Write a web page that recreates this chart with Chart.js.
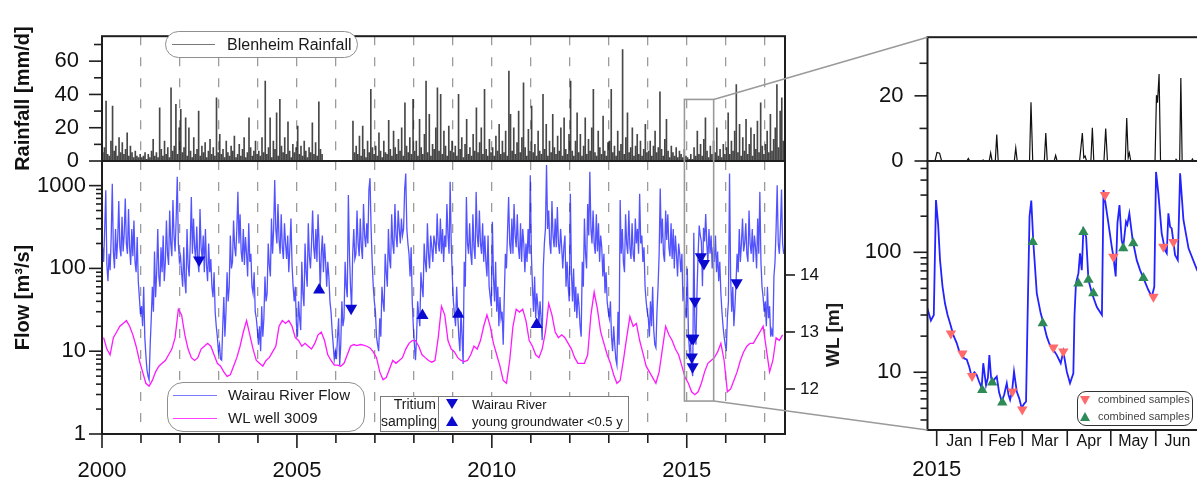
<!DOCTYPE html>
<html>
<head>
<meta charset="utf-8">
<script src="https://cdn.jsdelivr.net/npm/chart.js@4.4.1/dist/chart.umd.min.js"></script>
<style>
  html, body { margin: 0; padding: 0; background: #fff; overflow: hidden; width: 1197px; height: 484px; }
  #wrap { position: relative; width: 1197px; height: 484px; overflow: hidden;
          font-family: "Liberation Sans", Arial, sans-serif; color: #1a1a1a; }
  #wrap canvas { position: absolute; left: 0; top: 0; }
  .box { position: absolute; box-sizing: border-box; background: #fff; border: 1px solid #8f8f8f; }
  .box div { position: absolute; white-space: nowrap; }
  .ln { height: 0; }
  .tdown { width: 0; height: 0; border-left: 6px solid transparent; border-right: 6px solid transparent; border-top: 10px solid #0a0ad0; }
  .tup { width: 0; height: 0; border-left: 6px solid transparent; border-right: 6px solid transparent; border-bottom: 10px solid #0a0ad0; }
  #wlTitle { position: absolute; left: 833px; top: 335px; transform: translate(-50%, -50%) rotate(-90deg);
             font-weight: bold; font-size: 19px; white-space: nowrap; }
</style>
</head>
<body>
<div id="wrap">
  <canvas id="rainL" width="1197" height="484"></canvas>
  <canvas id="flowL" width="1197" height="484"></canvas>
  <canvas id="rainR" width="1220" height="484"></canvas>
  <canvas id="flowR" width="1220" height="484"></canvas>
  <canvas id="overlay" width="1220" height="484"></canvas>

  <div class="box" style="left:165px;top:31px;width:193px;height:27px;border-radius:14px;">
    <div class="ln" style="left:6px;top:12px;width:43px;border-top:1.3px solid #777;"></div>
    <div style="left:61px;top:3px;font-size:16px;line-height:19px;">Blenheim Rainfall</div>
  </div>

  <div class="box" style="left:167px;top:382px;width:198px;height:50px;border-radius:16px;">
    <div class="ln" style="left:5px;top:12px;width:44px;border-top:1.5px solid #7878ff;"></div>
    <div class="ln" style="left:5px;top:35px;width:44px;border-top:1.5px solid #ff40ff;"></div>
    <div style="left:60px;top:3px;font-size:15px;line-height:18px;">Wairau River Flow</div>
    <div style="left:60px;top:26px;font-size:15px;line-height:18px;">WL well 3009</div>
  </div>

  <div class="box" style="left:380px;top:396px;width:249px;height:36px;border-color:#7a7a7a;">
    <div style="left:0;top:-1px;width:55px;text-align:right;font-size:14px;line-height:17px;">Tritium<br>sampling</div>
    <div style="left:57px;top:0;height:34px;border-left:1px solid #7a7a7a;"></div>
    <div class="tdown" style="left:65px;top:2px;"></div>
    <div class="tup" style="left:65px;top:19px;"></div>
    <div style="left:91px;top:-1px;font-size:13px;line-height:17px;">Wairau River</div>
    <div style="left:91px;top:16px;font-size:13px;line-height:17px;">young groundwater &lt;0.5 y</div>
  </div>

  <div class="box" style="left:1077px;top:391px;width:116px;height:35px;border-radius:9px;border-color:#333;">
    <div class="tdown" style="left:2px;top:4px;border-left-width:5.5px;border-right-width:5.5px;border-top:9px solid #ff6a6a;"></div>
    <div class="tup" style="left:2px;top:20px;border-left-width:5.5px;border-right-width:5.5px;border-bottom:9px solid #2e8b57;"></div>
    <div style="left:20px;top:1px;font-size:11px;line-height:13px;color:#444;">combined samples</div>
    <div style="left:20px;top:18px;font-size:11px;line-height:13px;color:#444;">combined samples</div>
  </div>

  <div id="wlTitle">WL [m]</div>
</div>

<script>
// ---------- long record: flow 36 samples / year, WL 12 / year, rain 24 / year ----------
const yearTicks = [2000, 2001, 2002, 2003, 2004, 2005, 2006, 2007, 2008, 2009, 2010, 2011, 2012, 2013, 2014, 2015, 2016, 2017];

const flow2000 = [180, 120, 300, 880, 110, 70, 150, 95, 240, 1050, 160, 100, 300, 130, 220, 650, 180, 140,
  420, 160, 260, 700, 200, 150, 520, 180, 110, 300, 140, 380, 120, 90, 240, 70, 45, 28];
const flow2001 = [35, 20, 60, 15, 9, 6, 5, 4.5, 12, 25, 60, 30, 160, 45, 90, 300, 80, 60,
  180, 90, 250, 70, 120, 380, 150, 110, 500, 200, 140, 670, 250, 160, 400, 1280, 200, 120];
const flow2002 = [140, 90, 60, 180, 70, 50, 300, 110, 80, 200, 730, 150, 400, 180, 126, 320, 120, 90,
  520, 180, 130, 250, 90, 300, 110, 70, 200, 90, 130, 60, 45, 90, 30, 20, 15, 10];
const flow2003 = [12, 8, 7.8, 20, 45, 15, 30, 90, 40, 60, 250, 100, 120, 380, 180, 140, 300, 840,
  200, 450, 160, 120, 300, 110, 240, 150, 80, 350, 120, 150, 60, 50, 90, 30, 25, 18];
const flow2004 = [12, 20, 10, 35, 15, 25, 80, 40, 50, 200, 110, 80, 400, 150, 300, 1170, 300, 200,
  600, 220, 150, 450, 180, 130, 350, 200, 130, 250, 90, 180, 400, 110, 60, 40, 60, 22];
const flow2005 = [15, 40, 25, 18, 120, 50, 35, 200, 90, 60, 350, 140, 100, 200, 500, 180, 130, 300,
  120, 450, 200, 55, 150, 250, 90, 200, 120, 60, 120, 80, 40, 30, 18, 12, 8, 10];
const flow2006 = [8, 15, 25, 6.8, 12, 40, 20, 25, 120, 60, 45, 770, 150, 60, 33, 150, 300, 130,
  150, 500, 200, 140, 400, 180, 130, 600, 250, 180, 350, 200, 900, 1230, 300, 120, 60, 40];
const flow2007 = [30, 15, 12, 10, 25, 15, 60, 40, 30, 150, 90, 60, 300, 130, 100, 450, 200, 150,
  600, 250, 180, 500, 300, 200, 400, 250, 300, 900, 1400, 300, 200, 150, 80, 180, 40, 20];
const flow2008 = [12, 7.8, 15, 40, 27, 20, 90, 60, 45, 200, 120, 90, 350, 150, 100, 250, 180, 120,
  250, 200, 150, 460, 200, 160, 400, 150, 300, 120, 250, 180, 600, 250, 150, 1110, 200, 80];
const flow2009 = [40, 28, 20, 60, 28, 15, 10, 30, 15, 7, 120, 60, 730, 200, 150, 350, 150, 110,
  450, 180, 130, 840, 250, 180, 500, 200, 150, 350, 120, 250, 120, 80, 250, 60, 45, 35];
const flow2010 = [365, 80, 40, 120, 30, 60, 20, 45, 25, 30, 12, 45, 150, 100, 280, 730, 200, 150,
  400, 150, 600, 250, 180, 450, 180, 130, 350, 120, 300, 200, 90, 200, 120, 300, 150, 1330];
const flow2011 = [150, 60, 30, 80, 25, 50, 35, 21, 40, 25, 13.6, 100, 200, 300, 1770, 300, 500, 200,
  150, 650, 250, 180, 400, 180, 550, 200, 150, 300, 180, 100, 180, 250, 60, 120, 60, 40];
const flow2012 = [800, 90, 40, 100, 30, 60, 25, 50, 35, 20, 15, 120, 60, 400, 150, 100, 600, 250,
  1470, 300, 200, 500, 200, 150, 450, 160, 350, 120, 250, 180, 80, 150, 50, 90, 40, 30];
const flow2013 = [25, 40, 15, 10, 20, 12, 8, 6.8, 30, 12, 670, 150, 300, 120, 90, 450, 200, 150,
  500, 180, 130, 350, 150, 120, 400, 200, 300, 150, 800, 200, 250, 120, 180, 60, 40, 30];
const flow2014 = [25, 15, 40, 20, 60, 18, 12, 11, 30, 60, 150, 925, 200, 400, 150, 120, 500, 220,
  450, 180, 140, 350, 130, 300, 100, 250, 150, 80, 200, 150, 90, 150, 40, 60, 30, 25];
const flow2015 = [100, 17, 10, 12, 6, 5, 270, 19, 12, 55, 150, 330, 250, 210, 61, 310, 211, 455,
  200, 120, 300, 150, 250, 100, 180, 120, 250, 90, 160, 70, 120, 50, 30, 20, 15, 12];
const flow2016 = [10, 25, 40, 1400, 80, 30, 60, 20, 35, 67, 150, 90, 300, 120, 200, 400, 160, 200,
  350, 150, 120, 500, 200, 150, 300, 120, 250, 180, 100, 400, 150, 840, 120, 60, 45, 30];
const flow2017 = [40, 20, 60, 25, 35, 15, 18, 15, 80, 120, 300, 1010, 200, 150, 300, 900, 200, 150];

const wl2000 = [12.9, 12.7, 12.6, 12.9, 13.0, 13.1, 13.15, 13.2, 13.1, 12.95, 12.75, 12.5];
const wl2001 = [12.3, 12.1, 12.05, 12.15, 12.3, 12.4, 12.45, 12.5, 12.6, 12.7, 12.9, 13.4];
const wl2002 = [13.3, 12.95, 12.7, 12.55, 12.5, 12.55, 12.7, 12.75, 12.8, 12.75, 12.6, 12.45];
const wl2003 = [12.4, 12.3, 12.22, 12.25, 12.4, 12.55, 12.75, 13.0, 13.2, 12.95, 12.7, 12.5];
const wl2004 = [12.45, 12.4, 12.5, 12.55, 12.65, 12.75, 13.1, 13.2, 13.15, 13.2, 13.1, 12.9];
const wl2005 = [12.85, 12.75, 12.8, 12.75, 12.7, 12.8, 12.95, 13.0, 12.85, 12.6, 12.5, 12.42];
const wl2006 = [12.42, 12.4, 12.45, 12.6, 12.75, 12.78, 12.76, 12.78, 12.77, 12.75, 12.72, 12.65];
const wl2007 = [12.55, 12.3, 12.16, 12.2, 12.35, 12.5, 12.45, 12.5, 12.55, 12.7, 12.8, 12.85];
const wl2008 = [12.85, 12.75, 12.6, 12.55, 12.5, 12.47, 12.5, 12.9, 13.45, 13.3, 12.85, 12.7];
const wl2009 = [12.65, 12.55, 12.5, 12.48, 12.5, 12.6, 12.75, 12.7, 12.85, 13.1, 13.3, 13.1];
const wl2010 = [12.8, 12.6, 12.4, 12.15, 12.1, 12.5, 13.1, 13.4, 13.35, 13.4, 13.2, 12.85];
const wl2011 = [12.75, 12.6, 12.55, 12.7, 13.0, 13.5, 13.3, 13.0, 12.9, 12.95, 12.9, 12.8];
const wl2012 = [12.7, 12.55, 12.45, 12.45, 12.45, 12.6, 13.3, 13.7, 13.4, 13.0, 12.8, 12.6];
const wl2013 = [12.45, 12.25, 12.1, 12.15, 12.5, 12.9, 13.27, 13.1, 13.15, 12.85, 12.63, 12.4];
const wl2014 = [12.3, 12.2, 12.1, 12.3, 12.7, 13.1, 12.95, 12.85, 12.7, 12.6, 12.4, 12.2];
const wl2015 = [12.1, 11.95, 11.9, 11.95, 12.1, 12.3, 12.45, 12.5, 12.55, 12.65, 12.8, 12.5];
const wl2016 = [11.95, 12.0, 12.15, 12.3, 12.5, 12.65, 12.75, 12.8, 12.8, 12.9, 13.0, 13.1];
const wl2017 = [12.7, 12.3, 12.5, 12.9, 12.85, 12.95];

const rain2000 = [5, 8, 36, 4, 3, 12, 33, 6, 9, 3, 14, 5, 11, 4, 7, 17, 3, 9, 5, 2, 6, 3, 2, 4];
const rain2001 = [2, 3, 5, 1, 4, 2, 6, 13, 3, 5, 2, 32, 7, 3, 12, 4, 8, 2, 44, 6, 9, 34, 4, 20];
const rain2002 = [31, 5, 8, 26, 3, 20, 6, 2, 14, 4, 7, 30, 3, 9, 5, 11, 2, 6, 13, 4, 8, 3, 38, 5];
const rain2003 = [16, 4, 7, 2, 12, 5, 3, 9, 6, 15, 2, 4, 10, 3, 7, 14, 2, 5, 26, 8, 3, 6, 12, 4];
const rain2004 = [6, 3, 14, 5, 48, 4, 8, 26, 2, 12, 7, 29, 3, 37, 9, 5, 14, 4, 23.5, 6, 2, 10, 5, 8];
const rain2005 = [21, 4, 9, 3, 12, 6, 2, 8, 5, 23, 4, 11, 3, 35.6, 7, 4, null, null, null, null, null, null, null, null];
const rain2006 = [null, null, null, null, null, null, null, null, null, null, 24, 5, 9, 4, 15, 3, 21, 7, 2, 12, 5, 43, 8, 4];
const rain2007 = [9, 3, 17, 6, 2, 12, 5, 4, 24.5, 7, 3, 18, 8, 4, 13, 6, 20, 3, 35, 9, 5, 14, 4, 37];
const rain2008 = [6, 12, 3, 25, 8, 4, 16, 48, 5, 28, 3, 10, 7, 20, 44, 6, 40, 4, 18, 9, 3, 21, 6, 12];
const rain2009 = [5, 9, 3, 40, 7, 14, 2, 10, 25, 4, 8, 3, 16, 6, 32, 5, 11, 20, 4, 43, 7, 3, 13, 5];
const rain2010 = [8, 3, 15, 6, 22, 4, 12, 5, 18, 3, 54, 28, 6, 20, 4, 11, 30, 5, 14, 47, 8, 3, 19, 6];
const rain2011 = [33, 5, 10, 3, 18, 6, 4, 40, 7, 22, 3, 12, 5, 28, 8, 4, 15, 6, 20, 3, 26, 7, 4, 16];
const rain2012 = [48, 6, 3, 12, 29, 5, 16, 3, 9, 26, 4, 13, 6, 20, 43, 5, 3, 18, 8, 4, 27, 6, 3, 11];
const rain2013 = [12, 43, 5, 9, 3, 18, 6, 10, 67, 4, 14, 29, 5, 8, 20, 3, 9, 16, 4, 12, 3, 7, 22, 5];
const rain2014 = [6, 12, 3, 9, 18, 5, 8, 41.6, 7, 3, 13, 25, 6, 2, 9, 5, 3, 8, 2, 6, 4, 2, 7, 3];
const rain2015 = [2, 1, 4, 1, 8, 3, 18, 4, 10, 3, 13, 26, 6, 2, 9, 4, 12, 5, 20, 3, 7, 2, 10, 4];
const rain2016 = [8, 29, 4, 12, 6, 18, 46, 5, 22, 3, 14, 6, 25, 4, 10, 20, 3, 16, 7, 24, 5, 35, 9, 4];
const rain2017 = [10, 18, 5, 28, 6, 13, 20, 46, 8, 30, 38, 12];

// tritium samples on the long record
const riverYears = [2002.49, 2006.39, 2015.13, 2015.17, 2015.13, 2015.15, 2015.21, 2015.36, 2015.44, 2016.28];
const riverFlow = [126, 33, 14.3, 14.3, 8.5, 6.5, 40, 138, 115, 67];
const gwYears = [2005.57, 2008.22, 2009.14, 2011.15];
const gwFlow = [55, 27, 28, 21];

// ---------- Jan-Jun 2015 detail (x = days since 1 Jan 2015) ----------
const zoomFlowDay = [-7, -4, -2, -0.5, 1, 2.3, 4, 5.7, 7.5, 9.2, 11.5, 13.8, 15.5, 17.2, 19, 20.7, 22.5, 24.1, 26, 27.6,
  29, 31, 32.1, 34, 35.3, 36.3, 37.5, 38.6, 40, 41.4, 43, 44.8, 46.5, 48.3, 49.5, 50.6, 52, 53.3, 55.2, 57,
  58.6, 60, 61.6, 62.6, 64, 65.2, 66.6, 69, 71.7, 73.5, 75.9, 77.5, 79.3, 81, 82.8, 85.5, 87.3, 89.7, 91.9, 94.2,
  95, 96, 97.7, 98.8, 100, 101.1, 103, 104.6, 107, 110.4, 113.9, 115, 117.7, 120.7, 121.8, 123.4, 124.6, 126, 127.5, 128.6,
  130.5, 131.4, 132.8, 135.1, 137.9, 140.2, 142.5, 145.9, 148.3, 150, 151.2, 152.8, 155.1, 157.4, 158.6, 159.7, 160.9, 162, 164.3, 166.2,
  167.8, 170.1, 173.6, 179.5, 185];
const zoomFlowValue = [36, 27, 30, 273, 170, 86, 52, 37.6, 30, 25.6, 20.4, 17.5, 15, 14.4, 13, 12.8, 11, 9.2, 10, 9.5,
  8.5, 7.4, 11.9, 7.8, 9, 13.9, 9, 8.3, 8.8, 9.2, 6.8, 5.7, 6.5, 8.1, 6.5, 5.9, 7, 10.1, 6.9, 6,
  5.0, 5.4, 5.7, 27, 200, 270, 122, 45.5, 31, 26, 19.8, 17.5, 15.8, 15, 13.9, 11.9, 14.9, 10.1, 8.1, 9.8,
  30, 55, 67, 98, 71, 153, 135, 59, 45.5, 35, 30, 330, 198, 111, 92, 63, 175, 248, 126, 111,
  180, 170, 211, 126, 86, 71, 61, 48.5, 42.7, 51.6, 468, 310, 144, 104, 98, 211, 163, 158, 95, 86,
  455, 186, 108, 71, 55];

const zoomRainDay = [-7, -1.2, 0.2, 2, 3.4, 20.8, 21.8, 22.8, 31, 32, 33, 36.2, 37.2, 38.2, 40.4, 41.4, 42.4, 53.5, 54.5, 55.5,
  64, 65, 66.2, 74.2, 75.2, 76.2, 81, 82, 83, 98.5, 100.4, 101.4, 102.3, 103.3, 106.3, 107.3, 108.3, 115.3, 116.5, 117.7,
  130, 131, 132, 132.8, 133.8, 150.5, 151.5, 152.2, 153.3, 154.3, 164.5, 165, 166, 167.5, 168.3, 169.2, 175.5, 176.3, 177, 185];
const zoomRainMm = [0, 0, 2.6, 2.4, 0, 0, 0.8, 0, 0, 0.3, 0, 0, 2.5, 0, 0, 8.1, 0, 0, 4, 0,
  0, 18, 0, 0, 8.6, 0, 0, 1.7, 0, 0, 8.6, 1, 1.5, 0, 0, 10.2, 0, 0, 10, 0,
  0, 13.2, 1, 2.5, 0, 0, 20.2, 17.9, 26.7, 0, 0, 0.5, 0, 0, 25.5, 0, 0, 0.6, 0, 0];

const combDownDay = [9.8, 17.7, 24.4, 52.2, 59, 80.4, 87.3, 116, 121.8, 149.4, 156.3, 163.2];
const combDownValue = [21, 14.3, 9.3, 6.9, 4.9, 16.1, 14.9, 300, 92, 42.7, 111, 122];
const combUpDay = [31.4, 38.3, 45.2, 66.2, 73.1, 97.7, 101.1, 104.6, 108, 128.6, 135.5, 142.5];
const combUpValue = [7.1, 8.2, 5.6, 122, 25.6, 55, 148, 59, 45.5, 108, 119, 61];

// ---------- axis ticks ----------
const rainTicksL = [0, 10, 20, 30, 40, 50, 60, 70];
const rainTicksR = [0, 10, 20, 30];
const flowTicksL = [1, 2, 3, 4, 5, 6, 7, 8, 9, 10, 20, 30, 40, 50, 60, 70, 80, 90, 100, 200, 300, 400, 500, 600, 700, 800, 900, 1000];
const flowTicksR = [4, 5, 6, 7, 8, 9, 10, 20, 30, 40, 50, 60, 70, 80, 90, 100, 200, 300, 400, 500];
const decadeLabels = [1, 10, 100, 1000];
const wlTicks = [12, 13, 14];
const monthStarts = [0, 31, 59, 90, 120, 151];
const monthMids = [15.5, 45, 74.5, 105, 135.5, 166];
const monthNames = ['Jan', 'Feb', 'Mar', 'Apr', 'May', 'Jun'];

// zoom window drawn on the long record
const zoomStartYear = 2014.94, zoomEndYear = 2015.69;
const zoomTopRain = 37, zoomBottomFlow = 2.5;

// ================================
// helpers
// ================================
const FONT = '"Liberation Sans", Arial, sans-serif';
Chart.defaults.font.family = FONT;
Chart.defaults.color = '#111';
Chart.defaults.animation = false;
Chart.defaults.events = [];
Chart.defaults.plugins.legend.display = false;
Chart.defaults.plugins.tooltip.enabled = false;

function fromYears(table, perYear) {
  const out = [];
  table.forEach(([yr, vals]) => vals.forEach((v, i) => {
    if (v !== null) out.push({ x: yr + (i + 0.5) / perYear, y: v });
  }));
  return out;
}
const pairs = (xs, ys) => xs.map((x, i) => ({ x, y: ys[i] }));
const setTicks = list => s => { s.ticks = list.map(v => ({ value: v })); };

const frame = {
  id: 'frame',
  afterDraw(chart) {
    const { ctx, chartArea: a } = chart;
    ctx.save();
    ctx.strokeStyle = '#1e1e1e';
    ctx.lineWidth = 2;
    ctx.strokeRect(a.left, a.top, a.right - a.left, a.bottom - a.top);
    ctx.restore();
  }
};

// tick marks outside the frame, long for labelled ticks, short otherwise
function tickMarks(specs) {
  return {
    id: 'tickMarks',
    afterDraw(chart) {
      const { ctx, chartArea: a } = chart;
      ctx.save();
      ctx.strokeStyle = '#1e1e1e';
      ctx.lineWidth = 1.6;
      specs.forEach(sp => {
        const s = chart.scales[sp.id];
        const list = sp.at ? sp.at.map(v => ({ value: v, major: true }))
                           : s.ticks.map(t => ({ value: t.value, major: !!t.label }));
        list.forEach(t => {
          const p = s.getPixelForValue(t.value);
          const len = t.major ? sp.major : sp.minor;
          ctx.beginPath();
          if (sp.side === 'bottom') { ctx.moveTo(p, a.bottom); ctx.lineTo(p, a.bottom + len); }
          else if (sp.side === 'left') { ctx.moveTo(a.left, p); ctx.lineTo(a.left - len, p); }
          else { ctx.moveTo(a.right, p); ctx.lineTo(a.right + len, p); }
          ctx.stroke();
        });
      });
      ctx.restore();
    }
  };
}

const yearGrid = { display: true, drawTicks: false, offset: false, color: '#9b9b9b', lineWidth: 1.3 };
const noGrid = { display: false, drawTicks: false };

// ================================
// top left: rainfall
// ================================
const rainL = new Chart(document.getElementById('rainL'), {
  type: 'bar',
  data: {
    datasets: [{
      data: fromYears([[2000, rain2000], [2001, rain2001], [2002, rain2002], [2003, rain2003], [2004, rain2004], [2005, rain2005],
        [2006, rain2006], [2007, rain2007], [2008, rain2008], [2009, rain2009], [2010, rain2010], [2011, rain2011],
        [2012, rain2012], [2013, rain2013], [2014, rain2014], [2015, rain2015], [2016, rain2016], [2017, rain2017]], 24),
      backgroundColor: 'rgba(0,0,0,0.72)',
      borderWidth: 0,
      barThickness: 1
    }]
  },
  options: {
    responsive: false,
    layout: { padding: { left: 0, top: 24, right: 412, bottom: 323 } },
    scales: {
      x: {
        type: 'linear', min: 2000, max: 2017.52, offset: false,
        afterBuildTicks: setTicks(yearTicks),
        afterFit: s => { s.height = 0; },
        ticks: { display: false },
        grid: yearGrid,
        border: { display: false, dash: [9, 12] }
      },
      y: {
        min: 0, max: 75,
        afterBuildTicks: setTicks(rainTicksL),
        afterFit: s => { s.width = 102; },
        ticks: { padding: 23, font: { size: 22 }, autoSkip: false, callback: v => (v % 20 === 0 ? String(v) : '') },
        grid: noGrid,
        border: { display: false },
        title: { display: true, text: 'Rainfall [mm/d]', font: { size: 20, weight: 'bold' }, padding: { top: 11, bottom: 0 } }
      }
    }
  },
  plugins: [frame, tickMarks([{ id: 'y', side: 'left', major: 13, minor: 8 }])]
});

// ================================
// bottom left: flow + WL
// ================================
const flowL = new Chart(document.getElementById('flowL'), {
  type: 'line',
  data: {
    datasets: [
      {
        label: 'Wairau River', data: pairs(riverYears, riverFlow), yAxisID: 'y', showLine: false, order: 0,
        pointStyle: 'triangle', rotation: 180, pointRadius: 7, backgroundColor: '#0a0ad0', borderColor: '#0a0ad0', borderWidth: 0
      },
      {
        label: 'young groundwater <0.5 y', data: pairs(gwYears, gwFlow), yAxisID: 'y', showLine: false, order: 0,
        pointStyle: 'triangle', pointRadius: 7, backgroundColor: '#0a0ad0', borderColor: '#0a0ad0', borderWidth: 0
      },
      {
        label: 'WL well 3009', yAxisID: 'y2', order: 1,
        data: fromYears([[2000, wl2000], [2001, wl2001], [2002, wl2002], [2003, wl2003], [2004, wl2004], [2005, wl2005],
          [2006, wl2006], [2007, wl2007], [2008, wl2008], [2009, wl2009], [2010, wl2010], [2011, wl2011],
          [2012, wl2012], [2013, wl2013], [2014, wl2014], [2015, wl2015], [2016, wl2016], [2017, wl2017]], 12),
        borderColor: '#ff19ff', borderWidth: 1.3, pointRadius: 0, tension: 0
      },
      {
        label: 'Wairau River Flow', yAxisID: 'y', order: 2,
        data: fromYears([[2000, flow2000], [2001, flow2001], [2002, flow2002], [2003, flow2003], [2004, flow2004], [2005, flow2005],
          [2006, flow2006], [2007, flow2007], [2008, flow2008], [2009, flow2009], [2010, flow2010], [2011, flow2011],
          [2012, flow2012], [2013, flow2013], [2014, flow2014], [2015, flow2015], [2016, flow2016], [2017, flow2017]], 36),
        borderColor: 'rgba(0,0,255,0.68)', borderWidth: 1.3, pointRadius: 0, tension: 0
      }
    ]
  },
  options: {
    responsive: false,
    layout: { padding: { left: 0, top: 161, right: 352, bottom: 0 } },
    scales: {
      x: {
        type: 'linear', min: 2000, max: 2017.52,
        afterBuildTicks: setTicks(yearTicks),
        afterFit: s => { s.height = 50; },
        ticks: { padding: 24, font: { size: 22 }, autoSkip: false, maxRotation: 0, callback: v => (v % 5 === 0 ? String(v) : '') },
        grid: yearGrid,
        border: { display: false, dash: [9, 12] }
      },
      y: {
        type: 'logarithmic', min: 1, max: 1983,
        afterBuildTicks: setTicks(flowTicksL),
        afterFit: s => { s.width = 102; },
        ticks: { padding: 16, font: { size: 22 }, autoSkip: false, callback: v => (decadeLabels.includes(v) ? String(v) : '') },
        grid: noGrid,
        border: { display: false },
        title: { display: true, text: 'Flow [m³/s]', font: { size: 20, weight: 'bold' }, padding: { top: 11, bottom: 0 } }
      },
      y2: {
        position: 'right', min: 11.21, max: 16.0,
        afterBuildTicks: setTicks(wlTicks),
        afterFit: s => { s.width = 60; },
        ticks: { padding: 15, font: { size: 17 }, autoSkip: false },
        grid: noGrid,
        border: { display: false }
      }
    }
  },
  plugins: [frame, tickMarks([
    { id: 'x', side: 'bottom', major: 14, minor: 9 },
    { id: 'y', side: 'left', major: 13, minor: 6 },
    { id: 'y2', side: 'right', major: 10, minor: 10 }
  ])]
});

// ================================
// top right: rainfall Jan-Jun 2015
// ================================
const rainR = new Chart(document.getElementById('rainR'), {
  type: 'line',
  data: { datasets: [{ data: pairs(zoomRainDay, zoomRainMm), borderColor: '#111', borderWidth: 1.2, pointRadius: 0, tension: 0 }] },
  options: {
    responsive: false,
    layout: { padding: { left: 0, top: 24, right: 10, bottom: 323 } },
    scales: {
      x: { type: 'linear', min: -6.34, max: 188.4, display: false },
      y: {
        min: 0, max: 38,
        afterBuildTicks: setTicks(rainTicksR),
        afterFit: s => { s.width = 927.5; },
        ticks: { padding: 24, font: { size: 22 }, autoSkip: false, callback: v => (v % 20 === 0 ? String(v) : '') },
        grid: noGrid,
        border: { display: false }
      }
    }
  },
  plugins: [frame, tickMarks([{ id: 'y', side: 'left', major: 13, minor: 8 }])]
});

// ================================
// bottom right: flow Jan-Jun 2015
// ================================
const flowR = new Chart(document.getElementById('flowR'), {
  type: 'line',
  data: {
    datasets: [
      {
        label: 'combined samples', data: pairs(combDownDay, combDownValue), showLine: false, order: 0,
        pointStyle: 'triangle', rotation: 180, pointRadius: 6, backgroundColor: '#ff6a6a', borderWidth: 0
      },
      {
        label: 'combined samples', data: pairs(combUpDay, combUpValue), showLine: false, order: 0,
        pointStyle: 'triangle', pointRadius: 6, backgroundColor: '#2e8b57', borderWidth: 0
      },
      {
        label: 'Wairau River Flow', data: pairs(zoomFlowDay, zoomFlowValue), order: 1,
        borderColor: '#2323ff', borderWidth: 1.8, pointRadius: 0, tension: 0
      }
    ]
  },
  options: {
    responsive: false,
    layout: { padding: { left: 0, top: 161, right: 10, bottom: 0 } },
    scales: {
      x: {
        type: 'linear', min: -6.34, max: 188.4, weight: 1,
        afterBuildTicks: setTicks(monthMids),
        afterFit: s => { s.height = 22; },
        ticks: { padding: 2, font: { size: 16 }, autoSkip: false, maxRotation: 0, callback: (v, i) => monthNames[i] },
        grid: noGrid,
        border: { display: false }
      },
      yr: {
        type: 'linear', position: 'bottom', min: -6.34, max: 188.4, weight: 2,
        afterBuildTicks: setTicks([0]),
        afterFit: s => { s.height = 32; },
        ticks: { padding: 5, font: { size: 22 }, autoSkip: false, maxRotation: 0, callback: () => '2015' },
        grid: noGrid,
        border: { display: false }
      },
      y: {
        type: 'logarithmic', min: 3.3, max: 577,
        afterBuildTicks: setTicks(flowTicksR),
        afterFit: s => { s.width = 927.5; },
        ticks: { padding: 26, font: { size: 22 }, autoSkip: false, callback: v => (decadeLabels.includes(v) ? String(v) : '') },
        grid: noGrid,
        border: { display: false }
      }
    }
  },
  plugins: [frame, tickMarks([
    { id: 'x', side: 'bottom', major: 16, minor: 16, at: monthStarts },
    { id: 'y', side: 'left', major: 14, minor: 7 }
  ])]
});

// ================================
// zoom window + connector lines
// ================================
(function drawZoomWindow() {
  const ctx = document.getElementById('overlay').getContext('2d');
  const x0 = rainL.scales.x.getPixelForValue(zoomStartYear);
  const x1 = rainL.scales.x.getPixelForValue(zoomEndYear);
  const y0 = rainL.scales.y.getPixelForValue(zoomTopRain);
  const y1 = flowL.scales.y.getPixelForValue(zoomBottomFlow);
  ctx.strokeStyle = '#9a9a9a';
  ctx.lineWidth = 1.6;
  ctx.strokeRect(x0, y0, x1 - x0, y1 - y0);
  ctx.beginPath();
  ctx.moveTo(x1, y0);
  ctx.lineTo(rainR.chartArea.left, rainR.chartArea.top);
  ctx.moveTo(x1, y1);
  ctx.lineTo(flowR.chartArea.left, flowR.chartArea.bottom);
  ctx.stroke();
})();
</script>
</body>
</html>
